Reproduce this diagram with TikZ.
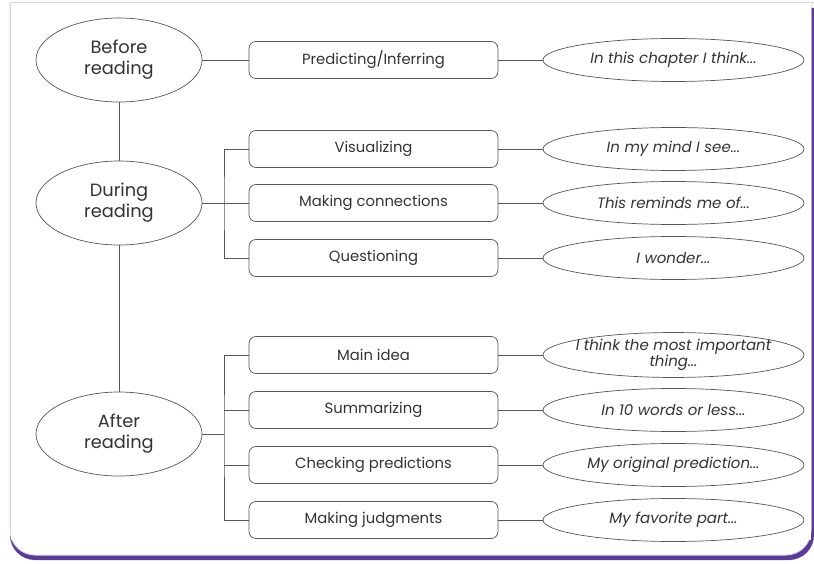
\documentclass[tikz,border=0pt]{standalone}
\usepackage{fontspec}
\setmainfont{Poppins}
\usetikzlibrary{shapes.geometric}
\definecolor{linec}{HTML}{555555}
\definecolor{textc}{HTML}{333333}
\definecolor{framec}{HTML}{D6D6E4}
\definecolor{purplec}{HTML}{5B3A9A}
\begin{document}
\begin{tikzpicture}[x=1pt,y=-1pt,
  stage/.style={ellipse, draw=linec, line width=0.7pt, minimum width=166pt, minimum height=84pt, inner sep=0pt, align=center, text=textc, font=\fontsize{17.8}{21}\selectfont},
  strat/.style={rectangle, rounded corners=7pt, draw=linec, line width=0.7pt, minimum width=249pt, minimum height=37pt, inner sep=0pt, text=textc, font=\fontsize{14.8}{16}\selectfont},
  prompt/.style={ellipse, draw=linec, line width=0.7pt, minimum width=261pt, minimum height=43pt, inner sep=0pt, align=center, text=textc, font=\itshape\fontsize{15}{13.5}\selectfont},
  conn/.style={draw=linec, line width=0.8pt}]
\useasboundingbox (0,0) rectangle (814,564);
% frame
\fill[purplec] (10,8) -- (814,8) -- (814,535) arc[start angle=0, end angle=90, radius=25] -- (35,560) arc[start angle=90, end angle=180, radius=25] -- cycle;
\fill[white, draw=framec, line width=1pt] (814,3) -- (10,3) -- (10,530) arc[start angle=180, end angle=90, radius=25] -- (786,555) arc[start angle=90, end angle=0, radius=25] -- (811,3);
\fill[white] (10.5,3.5) rectangle (810.5,540);
\draw[framec, line width=1pt] (10,3) -- (10,530);
\draw[framec, line width=1pt] (10,3) -- (814,3);

% stages
\node[stage] (before) at (119,60) {Before\\reading};
\node[stage] (during) at (119,203) {During\\reading};
\node[stage] (after) at (119,434) {After\\reading};

% strategies
\node[strat] (s1) at (373.5,60) {Predicting/Inferring};
\node[strat] (s2) at (373.5,149) {Visualizing};
\node[strat] (s3) at (373.5,203) {Making connections};
\node[strat] (s4) at (373.5,258) {Questioning};
\node[strat] (m1) at (373.5,355) {Main idea};
\node[strat] (m2) at (373.5,410) {Summarizing};
\node[strat] (m3) at (373.5,465) {Checking predictions};
\node[strat] (m4) at (373.5,520) {Making judgments};

% prompts
\node[prompt] (p1) at (673.5,60) {In this chapter I think...};
\node[prompt] (p2) at (673.5,149) {In my mind I see...};
\node[prompt] (p3) at (673.5,203) {This reminds me of...};
\node[prompt] (p4) at (673.5,258) {I wonder...};
\node[prompt] (q1) at (673.5,355) {\makebox[0pt]{I think the most important}\\\makebox[0pt]{thing...}};
\node[prompt] (q2) at (673.5,410) {In 10 words or less...};
\node[prompt] (q3) at (673.5,465) {My original prediction...};
\node[prompt] (q4) at (673.5,520) {My favorite part...};

% connectors
\coordinate (busD) at (224,203);
\coordinate (busA) at (224,434);
\draw[conn] (before.south) -- (during.north);
\draw[conn] (during.south) -- (after.north);
\draw[conn] (before.east) -- (s1.west);
\draw[conn] (during.east) -- (s3.west);
\draw[conn] (s2.west) -| (busD) |- (s4.west);
\draw[conn] (after.east) -- (busA);
\draw[conn] (m1.west) -| (busA) |- (m4.west);
\draw[conn] (m2.west) -- (m2.west -| busA);
\draw[conn] (m3.west) -- (m3.west -| busA);
\foreach \a/\b in {s1/p1,s2/p2,s3/p3,s4/p4,m1/q1,m2/q2,m3/q3,m4/q4}
  \draw[conn] (\a.east) -- (\b.west);
\end{tikzpicture}
\end{document}
